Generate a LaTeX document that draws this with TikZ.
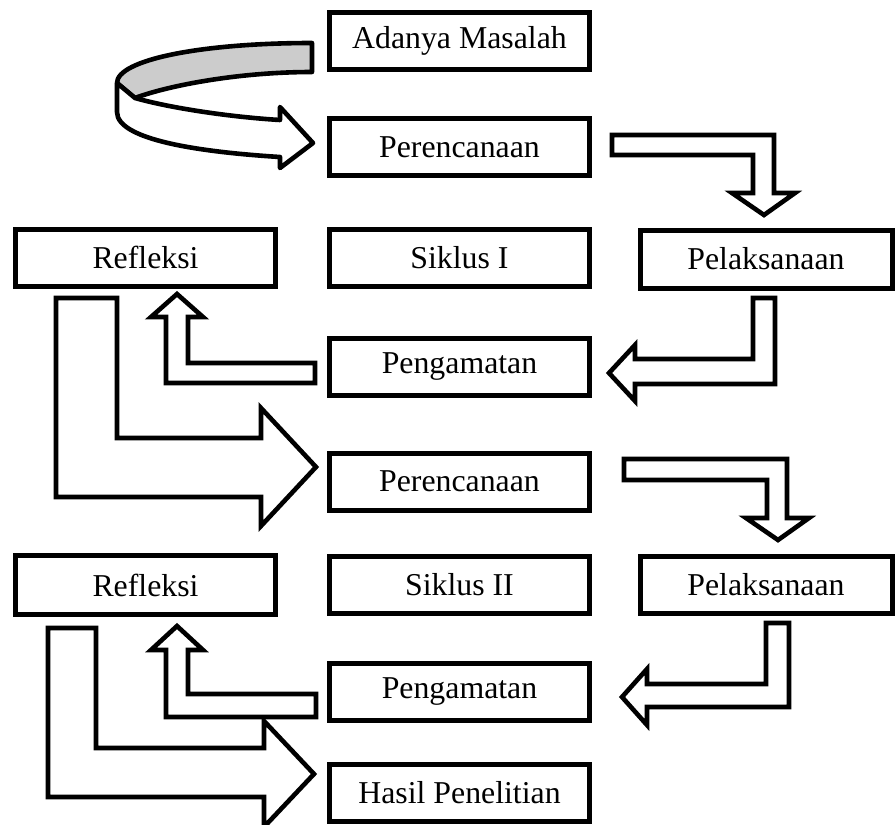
\documentclass[tikz,border=0pt]{standalone}
\usepackage{fontspec}
\setmainfont{Liberation Serif}
\begin{document}
\begin{tikzpicture}[x=1pt,y=-1pt,
  box/.style={draw=black,line width=5pt,fill=white,rectangle,minimum width=260pt,minimum height=57pt,inner sep=0pt,
    font=\fontsize{31.8}{36}\selectfont},
  blockarrow/.style={draw=black,line width=4.6pt,fill=white,line join=miter},
  ribbonback/.style={draw=black,line width=4.6pt,fill=black!20,line join=round}]
\useasboundingbox (0,0) rectangle (895,825);
\clip (0,0) rectangle (895,825);
\fill[white] (0,0) rectangle (895,825);
% boxes
\node[box] (adanya) at (459.5,41) {Adanya Masalah};
\node[box] (per1) at (459.5,147) {Perencanaan};
\node[box] (ref1) at (145.5,257.5) {Refleksi};
\node[box] (sik1) at (459.5,258) {Siklus I};
\node[box,minimum width=252pt,minimum height=58pt] (pel1) at (766,259) {Pelaksanaan};
\node[box] (pen1) at (459.5,367) {Pengamatan};
\node[box] (per2) at (459.5,481.5) {Perencanaan};
\node[box,minimum height=59pt] (ref2) at (145.5,585) {Refleksi};
\node[box] (sik2) at (459.5,585) {Siklus II};
\node[box,minimum width=252pt] (pel2) at (766,585) {Pelaksanaan};
\node[box] (pen2) at (459.5,691.5) {Pengamatan};
\node[box] (hasil) at (459.5,793) {Hasil Penelitian};
% curved ribbon arrow: Adanya Masalah -> Perencanaan
\path[ribbonback] (312,43) .. controls (200,43) and (117,60) .. (117,83)
  -- (135,98) .. controls (170,85) and (240,72) .. (312,72) -- cycle;
\path[blockarrow,line join=round] (117,83) -- (117,112) .. controls (117,140) and (200,152) .. (280,157)
  -- (280,168) -- (313,143) -- (280,107) -- (280,120)
  .. controls (230,117) and (170,108) .. (135,98) -- cycle;
% Perencanaan 1 -> Pelaksanaan 1
\path[blockarrow] (612,135) -- (774,135) -- (774,193) -- (795,193) -- (764,215)
  -- (732,193) -- (753,193) -- (753,155) -- (612,155) -- cycle;
% Pelaksanaan 1 -> Pengamatan 1
\path[blockarrow] (753,298) -- (775,298) -- (775,384) -- (635,384) -- (635,401)
  -- (609,373) -- (635,345) -- (635,359) -- (753,359) -- cycle;
% Pengamatan 1 -> Refleksi 1
\path[blockarrow] (315,363) -- (315,383) -- (166,383) -- (166,317) -- (151,317)
  -- (177,294) -- (203,317) -- (188,317) -- (188,363) -- cycle;
% Refleksi 1 -> Perencanaan 2
\path[blockarrow] (56,298) -- (117,298) -- (117,438) -- (261,438) -- (261,408)
  -- (316,467) -- (261,526) -- (261,497) -- (56,497) -- cycle;
% Perencanaan 2 -> Pelaksanaan 2
\path[blockarrow] (624,459) -- (787,459) -- (787,518) -- (809,518) -- (778,540)
  -- (746,518) -- (767,518) -- (767,480) -- (624,480) -- cycle;
% Pelaksanaan 2 -> Pengamatan 2
\path[blockarrow] (766,623) -- (789,623) -- (789,707) -- (647,707) -- (647,725)
  -- (622,697) -- (647,669) -- (647,684) -- (766,684) -- cycle;
% Pengamatan 2 -> Refleksi 2
\path[blockarrow] (316,694) -- (316,717) -- (166,717) -- (166,650) -- (151,650)
  -- (177,626) -- (203,650) -- (188,650) -- (188,694) -- cycle;
% Refleksi 2 -> Hasil Penelitian
\path[blockarrow] (48,628) -- (96,628) -- (96,748) -- (264,748) -- (264,721)
  -- (314,774) -- (264,827) -- (264,797) -- (48,797) -- cycle;
\end{tikzpicture}
\end{document}
